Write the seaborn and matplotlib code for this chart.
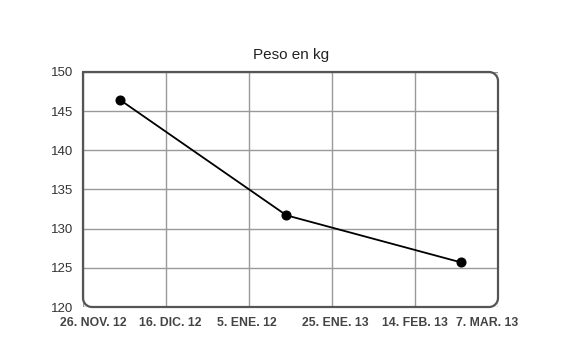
import numpy as np
import pandas as pd
import seaborn as sns
import matplotlib.pyplot as plt
import matplotlib.transforms as mtransforms

# data
fechas = ["2012-12-05", "2013-01-14", "2013-02-25"]
peso = [146.4, 131.7, 125.7]
tick_dias = [0, 20, 40, 60, 80, 100]
tick_labels = ["26. NOV. 12", "16. DIC. 12", "5. ENE. 12", "25. ENE. 13", "14. FEB. 13", "7. MAR. 13"]

inicio = pd.Timestamp("2012-11-26")
dias = [(pd.Timestamp(f) - inicio).days for f in fechas]
df = pd.DataFrame({"dia": dias, "peso": peso})

sns.set_style("white")
plt.rcParams['font.family'] = ['Liberation Sans', 'DejaVu Sans']

fig = plt.figure(figsize=(5.7, 3.6), dpi=100)
ax = fig.add_axes([0.1456, 0.1472, 0.7285, 0.653])

sns.lineplot(data=df, x="dia", y="peso", ax=ax, color="black", linewidth=1.3,
             marker="o", markersize=6.5, markeredgecolor="black", zorder=5)

ax.set_xlim(0, 100)
ax.set_ylim(120, 150)
ax.set_xticks(tick_dias)
ax.set_xticklabels(tick_labels, fontweight="bold", fontsize=8.8, color="#444")
ax.set_yticks([120, 125, 130, 135, 140, 145, 150])
ax.tick_params(axis="y", labelsize=9.5, colors="#333", pad=7, length=0)
ax.tick_params(axis="x", pad=7, length=0)
ax.grid(True, color="#999999", linewidth=1)
ax.set_xlabel("")
ax.set_ylabel("")
ax.set_title("Peso en kg", fontsize=11, color="#222", pad=9)
for s in ax.spines.values():
    s.set_visible(False)

# nudge x labels like the original
shifts = [10, 4, -2, 3, 0, -11]
for lab, dx in zip(ax.get_xticklabels(), shifts):
    lab.set_transform(lab.get_transform() + mtransforms.ScaledTranslation(dx / 100, 0, fig.dpi_scale_trans))

# rounded border (square top-left corner)
W, H = 570, 360
x0, x1 = 83 / W, 498 / W
y0, y1 = 1 - 307 / H, 1 - 72 / H
rx, ry = 9 / W, 9 / H
t = np.linspace(0, np.pi / 2, 15)
pts = [(x0, y1)]
# top-right
pts += list(zip(x1 - rx + rx * np.sin(t), y1 - ry + ry * np.cos(t)))
# bottom-right
pts += list(zip(x1 - rx + rx * np.cos(t), y0 + ry - ry * np.sin(t)))
# bottom-left
pts += list(zip(x0 + rx - rx * np.sin(t), y0 + ry - ry * np.cos(t)))
pts += [(x0, y1)]
px, py = zip(*pts)
fig.add_artist(plt.Line2D(px, py, transform=fig.transFigure, color="#555555", linewidth=1.6))

fig.savefig("out.png", dpi=100)
